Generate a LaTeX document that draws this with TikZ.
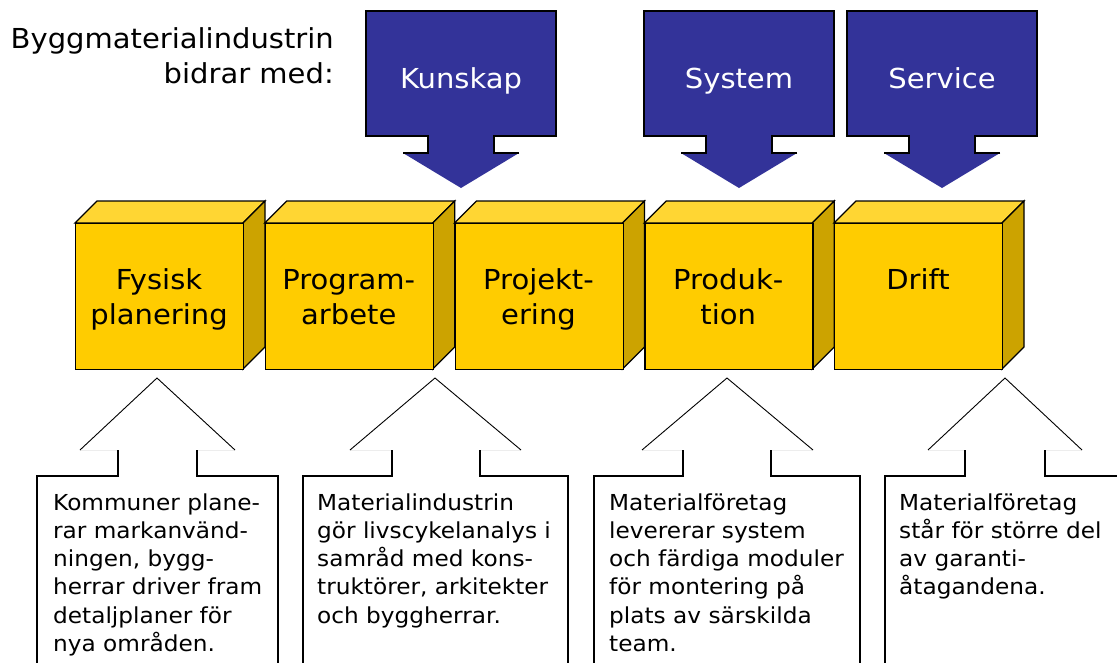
\documentclass[tikz,border=0pt]{standalone}
\usepackage{fontspec}
\setmainfont{DejaVu Sans}[FakeStretch=1.055]
\definecolor{arrblue}{HTML}{333399}
\definecolor{cfront}{HTML}{FFCC00}
\definecolor{ctop}{HTML}{FFD633}
\definecolor{cside}{HTML}{CCA300}
\newcommand\bigfont{\fontsize{27.5}{35}\selectfont}
\newcommand\smallfont{\fontsize{22}{28.3}\selectfont}
\tikzset{
  cubeline/.style={draw=black, line width=1.3},
  arrowfill/.style={fill=arrblue},
  arrowline/.style={draw=black, line width=1.5},
  callline/.style={draw=black, line width=1.8},
  triline/.style={draw=black, line width=0.9},
  basefaint/.style={draw=black!7, line width=1},
  cubetext/.style={anchor=base, align=center, font=\bigfont, inner sep=0},
  calltext/.style={anchor=base west, align=left, font=\smallfont, inner sep=0},
}
% #1 name, #2 x of front face, #3 baseline of last line, #4 text
\newcommand\mycube[4]{%
  \filldraw[fill=ctop, cubeline] (#2,223) -- ++(22,-22) -- ++(168,0) -- ++(-22,22) -- cycle;
  \filldraw[fill=cside, cubeline] (#2+168,223) -- ++(22,-22) -- ++(0,146) -- ++(-22,22) -- cycle;
  \node[cubeline, fill=cfront, minimum width=168, minimum height=146, anchor=north west, inner sep=0] (#1) at (#2,223) {};
  \node[cubetext] (#1t) at (#2+84,#3) {#4};
}
\newcommand\myarrow[3]{%
  \fill[arrowfill] (#2-95,11) -- (#2+95,11) -- (#2+95,136) -- (#2+33,136) -- (#2+33,153) -- (#2+58,153) -- (#2,188) -- (#2-58,153) -- (#2-33,153) -- (#2-33,136) -- (#2-95,136) -- cycle;
  \draw[arrowline] (#2+58,153) -- (#2+33,153) -- (#2+33,136) -- (#2+95,136) -- (#2+95,11) -- (#2-95,11) -- (#2-95,136) -- (#2-33,136) -- (#2-33,153) -- (#2-58,153);
  \node[font=\bigfont, text=white, anchor=base, inner sep=0] (#1) at (#2,88) {#3};
}
% #1 box left, #2 box right, #3 stem left, #4 stem right, #5 base left, #6 apex, #7 base right
\newcommand\mycallout[7]{%
  \draw[basefaint] (#5,450) -- (#3,450) (#4,450) -- (#7,450);
  \draw[triline] (#5,450) -- (#6,378) -- (#7,450);
  \draw[callline] (#1,700) -- (#1,476) -- (#3,476) -- (#3,450);
  \draw[callline] (#4,450) -- (#4,476) -- (#2,476) -- (#2,700);
}
\begin{document}
\begin{tikzpicture}[x=1pt, y=-1pt]
\useasboundingbox (0,0) rectangle (1117,662);
\clip (0,0) rectangle (1117,662);
\fill[white] (0,0) rectangle (1117,662);

\node[anchor=base east, align=right, font=\bigfont, inner sep=0] (title) at (334,83) {Byggmaterialindustrin\\bidrar med:};

\myarrow{kunskap}{461}{Kunskap}
\myarrow{system}{739}{System}
\myarrow{service}{942}{Service}

\mycube{c1}{75}{324}{Fysisk\\planering}
\mycube{c2}{264.75}{324}{Program-\\arbete}
\mycube{c3}{454.5}{324}{Projekt-\\ering}
\mycube{c4}{644.25}{324}{Produk-\\tion}
\mycube{c5}{834}{289}{Drift}

\mycallout{37}{278}{118}{197}{80}{157}{235}
\mycallout{303}{568}{392}{480}{350}{435}{521}
\mycallout{594}{860}{683}{771}{642}{727}{813}
\mycallout{885}{1151}{965}{1045}{928}{1005}{1082}

\node[calltext] (t1) at (53,651.5) {Kommuner plane-\\rar markanvänd-\\ningen, bygg-\\herrar driver fram\\detaljplaner för\\nya områden.};
\node[calltext] (t2) at (317,623.2) {Materialindustrin\\gör livscykelanalys i\\samråd med kons-\\truktörer, arkitekter\\och byggherrar.};
\node[calltext] (t3) at (609,651.5) {Materialföretag\\levererar system\\och färdiga moduler\\för montering på\\plats av särskilda\\team.};
\node[calltext] (t4) at (899,594.9) {Materialföretag\\står för större del\\av garanti-\\åtagandena.};
\end{tikzpicture}
\end{document}
